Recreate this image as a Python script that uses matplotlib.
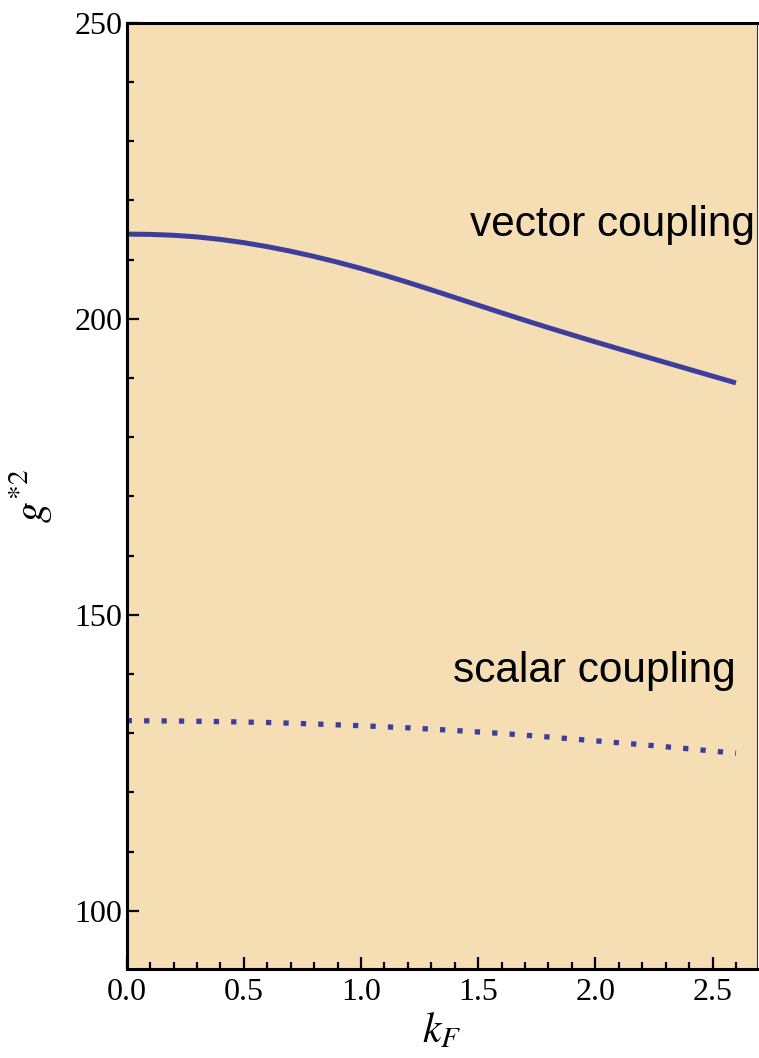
import numpy as np
import matplotlib
matplotlib.use("Agg")
import matplotlib.pyplot as plt
from matplotlib.ticker import MultipleLocator

# Effective couplings versus Fermi momentum
kf_vector = [0.0, 0.1, 0.2, 0.3, 0.4, 0.5, 0.6, 0.7, 0.8, 0.9, 1.0, 1.1, 1.2,
             1.3, 1.4, 1.5, 1.6, 1.7, 1.8, 1.9, 2.0, 2.1, 2.2, 2.3, 2.4, 2.5, 2.6]
g2_vector = [214.30, 214.25, 214.10, 213.82, 213.40, 212.85, 212.18, 211.40,
             210.52, 209.55, 208.49, 207.35, 206.14, 204.88, 203.59, 202.29,
             201.00, 199.73, 198.49, 197.28, 196.09, 194.92, 193.76, 192.61,
             191.46, 190.31, 189.16]

kf_scalar = [0.0, 0.2, 0.4, 0.6, 0.8, 1.0, 1.2, 1.4, 1.6, 1.8, 2.0, 2.2, 2.4, 2.6]
g2_scalar = [132.1, 132.05, 131.95, 131.8, 131.55, 131.25, 130.9, 130.45,
             129.95, 129.35, 128.7, 128.05, 127.35, 126.6]

x_ticks = [0.0, 0.5, 1.0, 1.5, 2.0, 2.5]
y_ticks = [100, 150, 200, 250]

plt.rcParams['mathtext.fontset'] = 'stix'

fig = plt.figure(figsize=(7.59, 10.58), dpi=100)
ax = fig.add_axes([0.1669, 0.0838, 0.9974 - 0.1669, 0.9785 - 0.0838])
ax.set_facecolor('#F5DEB3')

line_color = '#3d3d9e'
ax.plot(kf_vector, g2_vector, color=line_color, lw=3.6, solid_capstyle='butt',
        solid_joinstyle='round')
ax.plot(kf_scalar, g2_scalar, color=line_color, lw=3.8,
        linestyle=(0, (1.0, 2.3)), dash_capstyle='butt')

ax.set_xlim(0.0, 2.69)
ax.set_ylim(90.1, 250)

ax.set_xticks(x_ticks)
ax.set_xticklabels([f"{v:.1f}" for v in x_ticks])
ax.set_yticks(y_ticks)
ax.set_yticklabels([str(v) for v in y_ticks])
ax.xaxis.set_minor_locator(MultipleLocator(0.1))
ax.yaxis.set_minor_locator(MultipleLocator(10))

for lbl in ax.get_xticklabels() + ax.get_yticklabels():
    lbl.set_fontfamily('Liberation Serif')
    lbl.set_fontsize(23)

ax.tick_params(which='both', direction='in', top=False, right=False,
               width=1.6, color='black')
ax.tick_params(which='major', length=8.5)
ax.tick_params(which='minor', length=4.8)
ax.tick_params(axis='x', which='major', pad=6)
ax.tick_params(axis='y', which='major', pad=3)

for side in ('left', 'bottom', 'top'):
    ax.spines[side].set_linewidth(2.2)
ax.spines['right'].set_linewidth(0.8)
ax.spines['right'].set_color('#333333')

ax.set_xlabel(r'$k_F$', fontsize=30, labelpad=2)
ax.set_ylabel(r'$g^{*2}$', fontsize=30, labelpad=14)

ax.text(2.68, 214.0, 'vector coupling', fontsize=30.5, family='Liberation Sans',
        ha='right', va='baseline')
ax.text(2.6, 138.6, 'scalar coupling', fontsize=30.5, family='Liberation Sans',
        ha='right', va='baseline')

fig.savefig('out.png', dpi=100)
